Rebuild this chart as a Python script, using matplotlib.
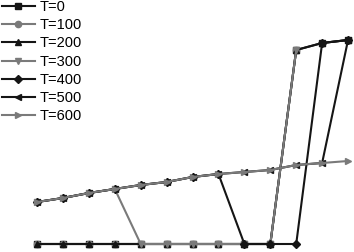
import numpy as np
import matplotlib.pyplot as plt

nan = np.nan
steps = np.arange(13)

t0 = [0, 0, 0, 0, 0, 0, 0, 0, 0, 0, 97, 100.5, 102]
t100 = [0, 0, 0, 0, 0, 0, 0, 0, 0, 0, 97, nan, nan]
t200 = [0, 0, 0, 0, 0, 0, 0, 0, 0, 0, 97, 100.5, 102]
t300 = [21, 23, 25.5, 27.5, 0, 0, 0, 0, 0, 0, 97, nan, nan]
t400 = [21, 23, 25.5, 27.5, 29.5, 31, 33.5, 35, 0, 0, 0, 100.5, 102]
t500 = [21, 23, 25.5, 27.5, 29.5, 31, 33.5, 35, 36, 37, 39.5, 40.5, 102]
t600 = [21, 23, 25.5, 27.5, 29.5, 31, 33.5, 35, 36, 37, 39.5, 40.5, 41.5]

labels = ["T=0", "T=100", "T=200", "T=300", "T=400", "T=500", "T=600"]
series = [t0, t100, t200, t300, t400, t500, t600]
markers = ["s", "o", "^", "v", "D", "<", ">"]
dark = "#151515"
grey = "#7a7a7a"
colors = [dark, grey, dark, grey, dark, dark, grey]
sizes = [4, 4.5, 5, 5, 4, 5, 5]

plt.rcParams['font.family'] = ['Liberation Sans', 'DejaVu Sans']
fig = plt.figure(figsize=(3.54, 2.52), dpi=100)
ax = fig.add_axes([0, 0, 1, 1])

for y, lab, m, c, ms in zip(series, labels, markers, colors, sizes):
    ax.plot(steps, y, color=c, marker=m, markersize=ms, linewidth=1.5, label=lab)

ax.set_xlim(-1.43, 12.23)
ax.set_ylim(-4, 122)
ax.axis('off')

ax.legend(loc='upper left', bbox_to_anchor=(2 / 354, 1.0), frameon=False, fontsize=10.5,
          handlelength=2.25, handletextpad=0.35, labelspacing=0.29, borderaxespad=0,
          borderpad=0)

fig.savefig("out.png", dpi=100)
